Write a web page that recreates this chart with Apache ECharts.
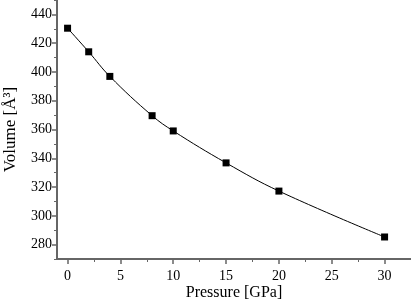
<!DOCTYPE html>
<html><head><meta charset="utf-8">
<script src="https://cdn.jsdelivr.net/npm/echarts@6/dist/echarts.min.js"></script>
<style>html,body{margin:0;padding:0;background:#fff}#c{width:411px;height:301px}</style>
</head><body><div id="c"></div>
<script>
var pressure = [0, 2, 4, 8, 10, 15, 20, 30];
var volume = [430.4, 414.0, 396.9, 369.6, 359.0, 336.8, 317.2, 285.3];
var xTicks = [0, 5, 10, 15, 20, 25, 30];
var xMinorTicks = [2.5, 7.5, 12.5, 17.5, 22.5, 27.5, 32.5];
var yTicks = [280, 300, 320, 340, 360, 380, 400, 420, 440];
var yMinorTicks = [270, 290, 310, 330, 350, 370, 390, 410, 430, 450];

var pts = pressure.map(function (p, i) { return [p, volume[i]]; });
var font = '"Liberation Serif", "Times New Roman", Times, serif';
var axisCol = '#666';
var gridBox = { left: 57, right: 0, top: 0, bottom: 42, outerBoundsMode: 'none' };
var chart = echarts.init(document.getElementById('c'));
chart.setOption({
  animation: false,
  grid: [Object.assign({}, gridBox), Object.assign({}, gridBox)],
  xAxis: [{
    gridIndex: 0, type: 'value', min: -1, max: 32.5, interval: 5,
    name: 'Pressure [GPa]', nameLocation: 'middle', nameGap: 26, nameMoveOverlap: false,
    nameTextStyle: { fontFamily: font, fontSize: 16, color: '#000' },
    axisLine: { show: true, onZero: false, lineStyle: { color: axisCol, width: 2 } },
    axisTick: { show: true, length: 5, lineStyle: { color: axisCol, width: 1.5 }, customValues: xTicks },
    axisLabel: { fontFamily: font, fontSize: 14, color: '#000', margin: 10, customValues: xTicks },
    splitLine: { show: false }
  }, {
    gridIndex: 1, type: 'value', min: -1, max: 32.5,
    axisLine: { show: false, onZero: false },
    axisTick: { show: true, length: 3, lineStyle: { color: axisCol, width: 1 }, customValues: xMinorTicks },
    axisLabel: { show: false, customValues: xMinorTicks },
    splitLine: { show: false }
  }],
  yAxis: [{
    gridIndex: 0, type: 'value', min: 270, max: 450, interval: 10,
    name: 'Volume [Å³]', nameLocation: 'middle', nameGap: 38, nameMoveOverlap: false,
    nameTextStyle: { fontFamily: font, fontSize: 17, color: '#000' },
    axisLine: { show: true, onZero: false, lineStyle: { color: axisCol, width: 2 } },
    axisTick: { show: true, length: 5, lineStyle: { color: axisCol, width: 1.5 }, customValues: yTicks },
    axisLabel: { fontFamily: font, fontSize: 14, color: '#000', margin: 5, customValues: yTicks },
    splitLine: { show: false }
  }, {
    gridIndex: 1, type: 'value', min: 270, max: 450,
    axisLine: { show: false, onZero: false },
    axisTick: { show: true, length: 3, lineStyle: { color: axisCol, width: 1 }, customValues: yMinorTicks },
    axisLabel: { show: false, customValues: yMinorTicks },
    splitLine: { show: false }
  }],
  series: [{
    type: 'line', xAxisIndex: 0, yAxisIndex: 0, data: pts, smooth: 0.4,
    symbol: 'rect', symbolSize: 7,
    itemStyle: { color: '#000' },
    lineStyle: { color: '#000', width: 1 }
  }]
});
</script></body></html>
